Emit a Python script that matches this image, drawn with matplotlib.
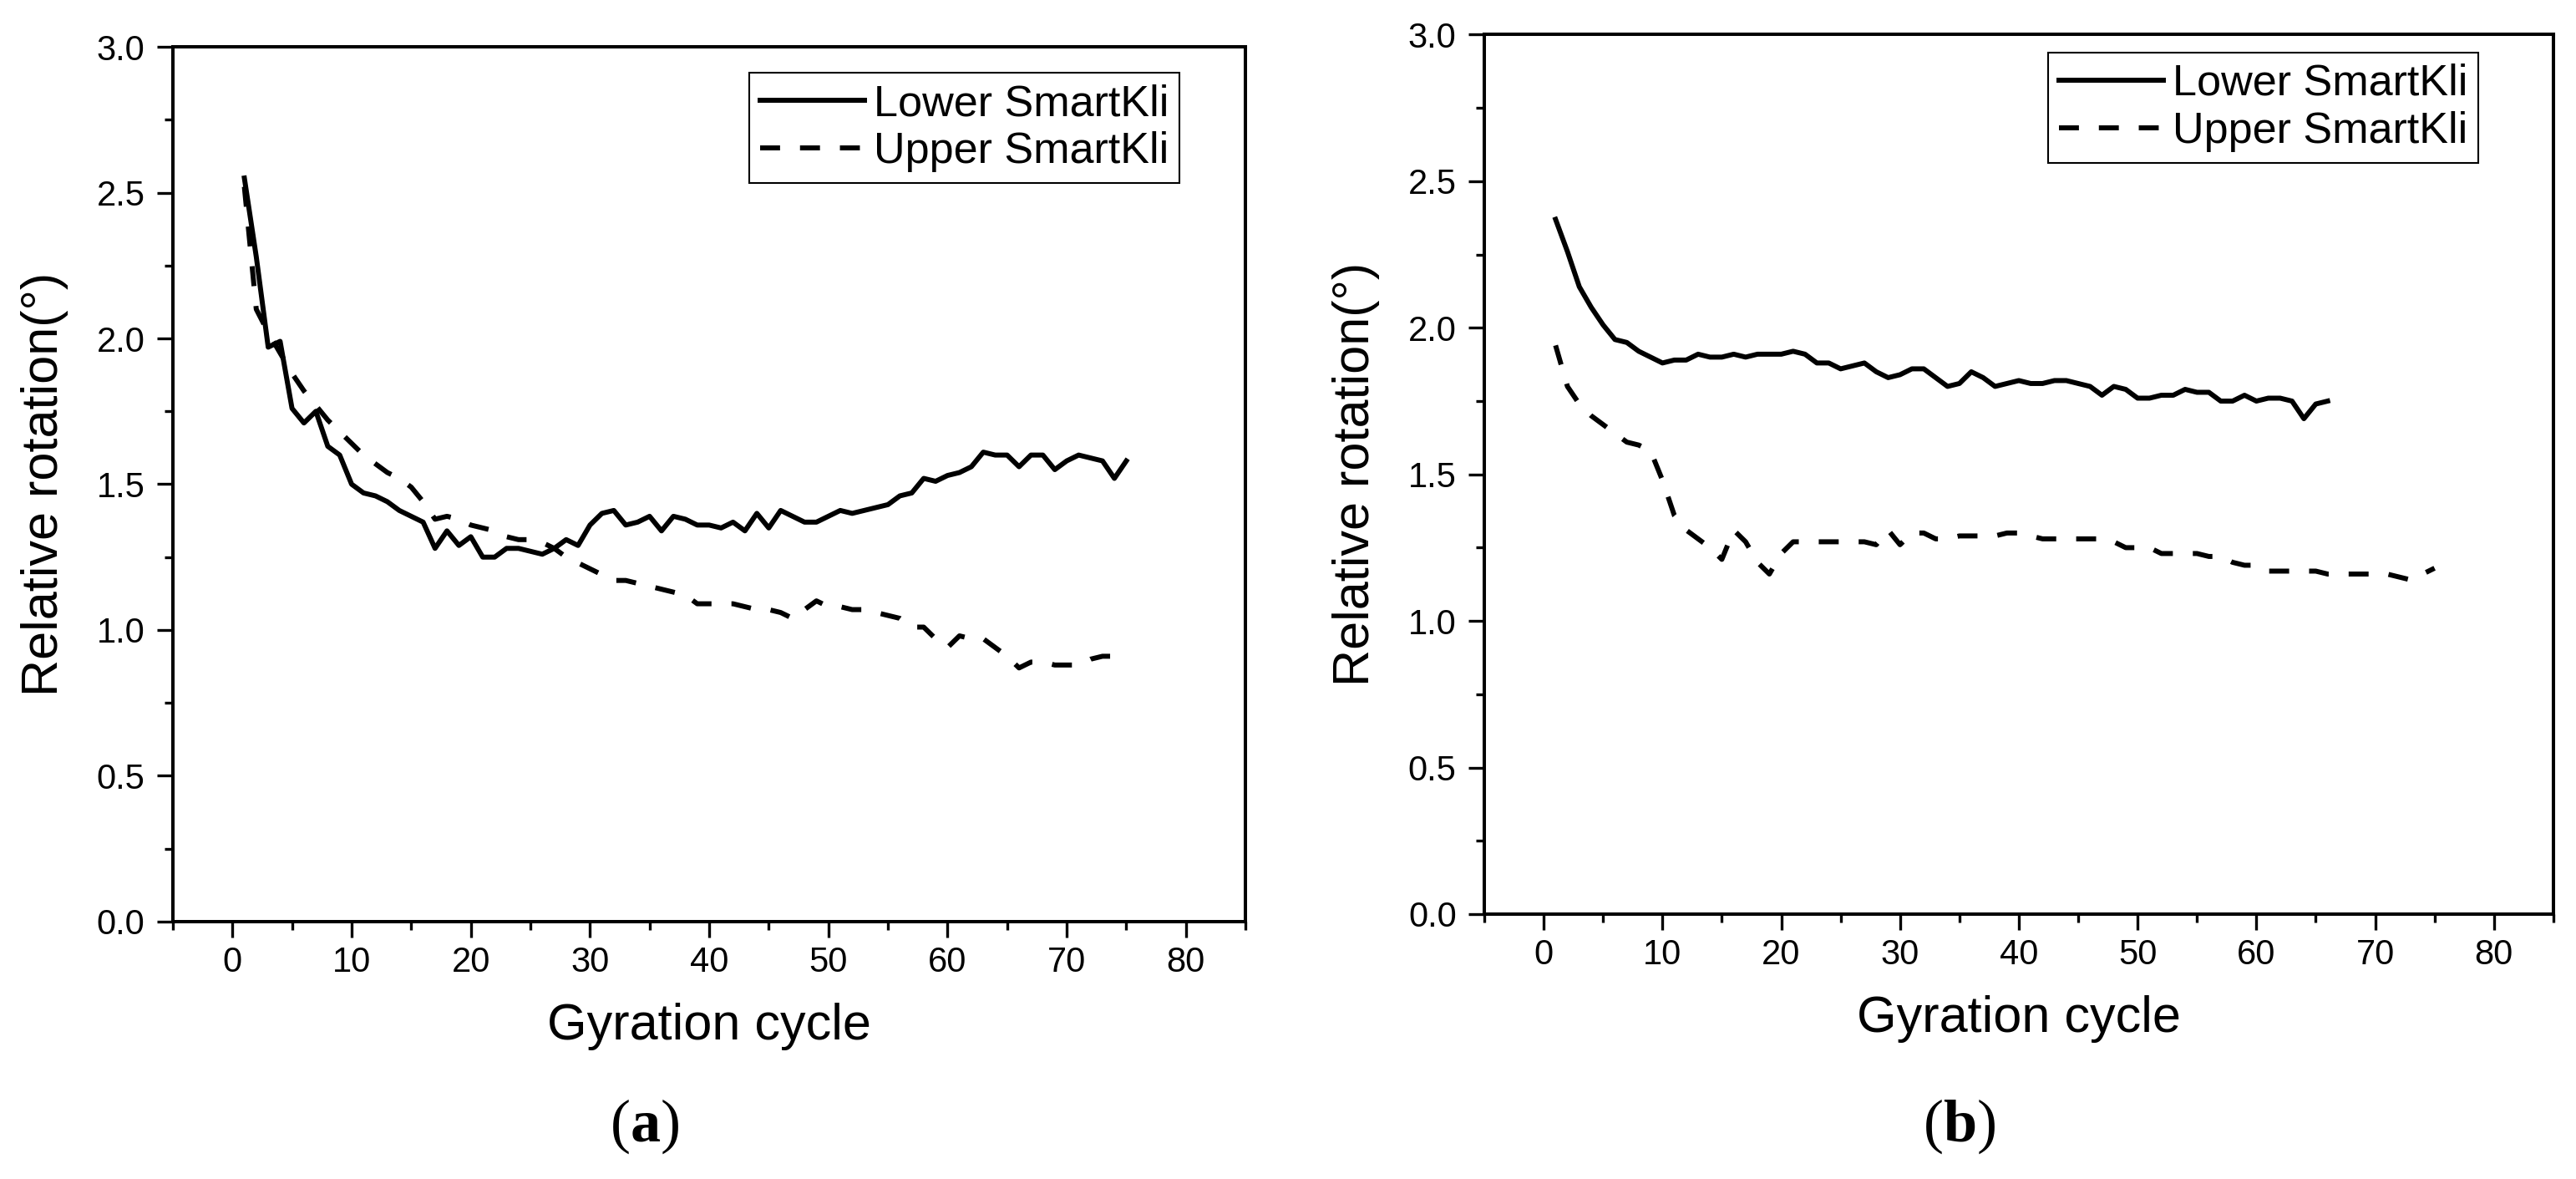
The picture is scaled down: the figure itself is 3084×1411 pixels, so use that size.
import matplotlib
matplotlib.use("Agg")
import matplotlib.pyplot as plt
from matplotlib.ticker import MultipleLocator, FormatStrFormatter

plt.rcParams['font.family'] = ['Liberation Sans', 'DejaVu Sans']
plt.rcParams['mathtext.fontset'] = 'custom'
plt.rcParams['mathtext.rm'] = 'Liberation Serif'
plt.rcParams['mathtext.bf'] = 'Liberation Serif:bold'

# (a) 曲线数据
cycle_a_lower = list(range(1, 76))
lower_a = [2.55, 2.28, 1.97, 1.99, 1.76, 1.71, 1.75, 1.63, 1.60, 1.50,
           1.47, 1.46, 1.44, 1.41, 1.39, 1.37, 1.28, 1.34, 1.29, 1.32,
           1.25, 1.25, 1.28, 1.28, 1.27, 1.26, 1.28, 1.31, 1.29, 1.36,
           1.40, 1.41, 1.36, 1.37, 1.39, 1.34, 1.39, 1.38, 1.36, 1.36,
           1.35, 1.37, 1.34, 1.40, 1.35, 1.41, 1.39, 1.37, 1.37, 1.39,
           1.41, 1.40, 1.41, 1.42, 1.43, 1.46, 1.47, 1.52, 1.51, 1.53,
           1.54, 1.56, 1.61, 1.60, 1.60, 1.56, 1.60, 1.60, 1.55, 1.58,
           1.60, 1.59, 1.58, 1.52, 1.58]
cycle_a_upper = list(range(1, 75))
upper_a = [2.52, 2.10, 2.02, 1.95, 1.88, 1.82, 1.77, 1.72, 1.68, 1.64,
           1.60, 1.57, 1.54, 1.52, 1.49, 1.44, 1.38, 1.39, 1.38, 1.36,
           1.35, 1.34, 1.32, 1.31, 1.31, 1.30, 1.28, 1.25, 1.23, 1.21,
           1.19, 1.17, 1.17, 1.16, 1.15, 1.14, 1.13, 1.12, 1.09, 1.09,
           1.09, 1.09, 1.08, 1.07, 1.07, 1.06, 1.04, 1.07, 1.10, 1.08,
           1.08, 1.07, 1.07, 1.06, 1.05, 1.04, 1.01, 1.01, 0.97, 0.94,
           0.98, 0.97, 0.97, 0.94, 0.91, 0.87, 0.89, 0.89, 0.88, 0.88,
           0.88, 0.90, 0.91, 0.91]

# (b) 曲线数据
cycle_b_lower = list(range(1, 67))
lower_b = [2.37, 2.26, 2.14, 2.07, 2.01, 1.96, 1.95, 1.92, 1.90, 1.88,
           1.89, 1.89, 1.91, 1.90, 1.90, 1.91, 1.90, 1.91, 1.91, 1.91,
           1.92, 1.91, 1.88, 1.88, 1.86, 1.87, 1.88, 1.85, 1.83, 1.84,
           1.86, 1.86, 1.83, 1.80, 1.81, 1.85, 1.83, 1.80, 1.81, 1.82,
           1.81, 1.81, 1.82, 1.82, 1.81, 1.80, 1.77, 1.80, 1.79, 1.76,
           1.76, 1.77, 1.77, 1.79, 1.78, 1.78, 1.75, 1.75, 1.77, 1.75,
           1.76, 1.76, 1.75, 1.69, 1.74, 1.75]
cycle_b_upper = list(range(1, 76))
upper_b = [1.94, 1.80, 1.74, 1.70, 1.67, 1.64, 1.61, 1.60, 1.58, 1.48,
           1.36, 1.31, 1.28, 1.25, 1.21, 1.31, 1.27, 1.20, 1.16, 1.23,
           1.27, 1.27, 1.27, 1.27, 1.27, 1.27, 1.27, 1.26, 1.31, 1.26,
           1.30, 1.30, 1.28, 1.28, 1.29, 1.29, 1.29, 1.29, 1.30, 1.30,
           1.29, 1.28, 1.28, 1.28, 1.28, 1.28, 1.28, 1.27, 1.25, 1.25,
           1.25, 1.23, 1.23, 1.23, 1.23, 1.22, 1.22, 1.20, 1.19, 1.19,
           1.17, 1.17, 1.17, 1.17, 1.17, 1.16, 1.16, 1.16, 1.16, 1.16,
           1.16, 1.15, 1.14, 1.16, 1.18]

labels = ['Lower SmartKli', 'Upper SmartKli']

fig = plt.figure(figsize=(30.84, 14.11), dpi=100)
ax1 = fig.add_axes([0.0671, 0.2183, 0.4164, 0.7420])
ax2 = fig.add_axes([0.5762, 0.2247, 0.4150, 0.7459])

panels = [
    (ax1, cycle_a_lower, lower_a, cycle_a_upper, upper_a, (0.9385, 0.9704)),
    (ax2, cycle_b_lower, lower_b, cycle_b_upper, upper_b, (0.930, 0.9796)),
]

for ax, xl, yl, xu, yu, leg_pos in panels:
    ax.plot(xl, yl, color='black', lw=4.3, label=labels[0])
    ax.plot(xu, yu, color='black', lw=4.3, linestyle=(0, (4, 4)), label=labels[1])
    ax.set_xlim(-5, 85)
    ax.set_ylim(0, 3.0)
    ax.xaxis.set_major_locator(MultipleLocator(10))
    ax.xaxis.set_minor_locator(MultipleLocator(5))
    ax.yaxis.set_major_locator(MultipleLocator(0.5))
    ax.yaxis.set_minor_locator(MultipleLocator(0.25))
    ax.yaxis.set_major_formatter(FormatStrFormatter('%.1f'))
    ax.tick_params(which='both', direction='out', top=False, right=False, width=2.4, labelsize=30)
    ax.tick_params(which='major', length=14)
    ax.tick_params(which='minor', length=7)
    ax.tick_params(axis='x', which='major', pad=7)
    ax.tick_params(axis='y', which='major', pad=10)
    for s in ax.spines.values():
        s.set_linewidth(2.9)
    ax.set_xlabel('Gyration cycle', fontsize=44, labelpad=20)
    ax.set_ylabel('Relative rotation(°)', fontsize=44, labelpad=24)
    leg = ax.legend(loc='upper right', bbox_to_anchor=leg_pos, fontsize=37.5,
                    frameon=True, fancybox=False, framealpha=1, edgecolor='black',
                    borderaxespad=0, borderpad=0.25, labelspacing=0.15,
                    handlelength=2.4, handletextpad=0.2)
    leg.get_frame().set_linewidth(1.5)

fig.text(0.2503, 0.0447, r'($\mathbf{a}$)', fontsize=52, family='Liberation Serif',
         ha='center', va='center')
fig.text(0.7604, 0.0447, r'($\mathbf{b}$)', fontsize=52, family='Liberation Serif',
         ha='center', va='center')

fig.savefig('out.png', dpi=100)
